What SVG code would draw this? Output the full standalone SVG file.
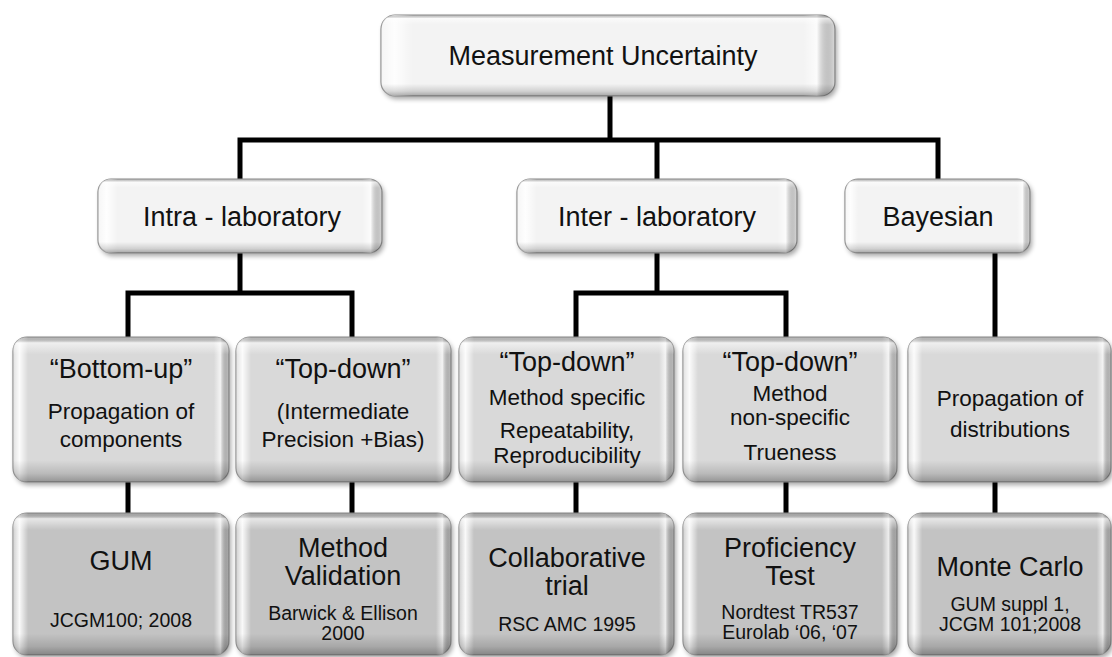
<svg xmlns="http://www.w3.org/2000/svg" width="1112" height="657" viewBox="0 0 1112 657">
<style>
text{font-family:"Liberation Sans",Arial,sans-serif;fill:#111;text-anchor:middle}
.h{font-size:27px}
.m{font-size:22.5px}
.s{font-size:19.5px}
.base{stroke:#8a8a8a;stroke-width:1.2}
.w{fill:#f3f3f3}
.g3{fill:#d9d9d9}
.g4{fill:#c3c3c3}
.hg{fill:url(#hGrad)}
.vg{fill:url(#vGrad)}
.sh{fill:#000;opacity:.35;filter:url(#blur)}
.conn{fill:none;stroke:#000;stroke-width:5;stroke-linejoin:miter}
</style>
<defs>
<filter id="blur" x="-10%" y="-10%" width="120%" height="130%"><feGaussianBlur stdDeviation="2.5"/></filter>
<linearGradient id="hGrad" x1="0" y1="0" x2="1" y2="0">
<stop offset="0" stop-color="#fff" stop-opacity=".2"/>
<stop offset=".03" stop-color="#fff" stop-opacity=".9"/>
<stop offset=".07" stop-color="#fff" stop-opacity="0"/>
<stop offset=".93" stop-color="#fff" stop-opacity="0"/>
<stop offset=".96" stop-color="#fff" stop-opacity=".7"/>
<stop offset="1" stop-color="#000" stop-opacity=".1"/>
</linearGradient>
<linearGradient id="vGrad" x1="0" y1="0" x2="0" y2="1">
<stop offset="0" stop-color="#000" stop-opacity=".1"/>
<stop offset=".04" stop-color="#fff" stop-opacity=".6"/>
<stop offset=".12" stop-color="#fff" stop-opacity="0"/>
<stop offset=".85" stop-color="#000" stop-opacity="0"/>
<stop offset=".94" stop-color="#000" stop-opacity=".14"/>
<stop offset="1" stop-color="#000" stop-opacity=".32"/>
</linearGradient>
</defs>
<rect width="1112" height="657" fill="#fff"/>

<g id="connectors">
<path class="conn" d="M610 96 V140 M240 179 V140 H938 V179 M657 140 V179"/>
<path class="conn" d="M240 253 V293 M128 337 V293 H352 V337"/>
<path class="conn" d="M657 253 V293 M576 337 V293 H786 V337"/>
<path class="conn" d="M995 253 V337"/>
<path class="conn" d="M128 482 V513 M352 482 V513 M576 482 V513 M786 482 V513 M995 482 V513"/>
</g>

<g id="n-mu">
<rect class="sh" x="383" y="18" width="454" height="81" rx="14"/>
<rect class="base w" x="381" y="15" width="454" height="81" rx="14"/>
<rect class="hg" x="381" y="15" width="454" height="81" rx="14"/>
<rect class="vg" x="381" y="15" width="454" height="81" rx="14"/>
<text class="h" x="603" y="65">Measurement Uncertainty</text>
</g>

<g id="n-intra">
<rect class="sh" x="100" y="182" width="284" height="74" rx="13"/>
<rect class="base w" x="98" y="179" width="284" height="74" rx="13"/>
<rect class="hg" x="98" y="179" width="284" height="74" rx="13"/>
<rect class="vg" x="98" y="179" width="284" height="74" rx="13"/>
<text class="h" x="242" y="226">Intra - laboratory</text>
</g>

<g id="n-inter">
<rect class="sh" x="519" y="182" width="280" height="74" rx="13"/>
<rect class="base w" x="517" y="179" width="280" height="74" rx="13"/>
<rect class="hg" x="517" y="179" width="280" height="74" rx="13"/>
<rect class="vg" x="517" y="179" width="280" height="74" rx="13"/>
<text class="h" x="657" y="226">Inter - laboratory</text>
</g>

<g id="n-bayes">
<rect class="sh" x="847" y="182" width="185" height="74" rx="13"/>
<rect class="base w" x="845" y="179" width="185" height="74" rx="13"/>
<rect class="hg" x="845" y="179" width="185" height="74" rx="13"/>
<rect class="vg" x="845" y="179" width="185" height="74" rx="13"/>
<text class="h" x="938" y="226">Bayesian</text>
</g>

<g id="n-bottomup">
<rect class="sh" x="15" y="340" width="216" height="145" rx="14"/>
<rect class="base g3" x="13" y="337" width="216" height="145" rx="14"/>
<rect class="hg" x="13" y="337" width="216" height="145" rx="14"/>
<rect class="vg" x="13" y="337" width="216" height="145" rx="14"/>
<text class="h" x="121" y="378">“Bottom-up”</text>
<text class="m" x="121" y="419">Propagation of</text>
<text class="m" x="121" y="447">components</text>
</g>

<g id="n-topdown-intra">
<rect class="sh" x="238" y="340" width="215" height="145" rx="14"/>
<rect class="base g3" x="236" y="337" width="215" height="145" rx="14"/>
<rect class="hg" x="236" y="337" width="215" height="145" rx="14"/>
<rect class="vg" x="236" y="337" width="215" height="145" rx="14"/>
<text class="h" x="343" y="378">“Top-down”</text>
<text class="m" x="343" y="419">(Intermediate</text>
<text class="m" x="343" y="447">Precision +Bias)</text>
</g>

<g id="n-topdown-specific">
<rect class="sh" x="461" y="340" width="215" height="145" rx="14"/>
<rect class="base g3" x="459" y="337" width="215" height="145" rx="14"/>
<rect class="hg" x="459" y="337" width="215" height="145" rx="14"/>
<rect class="vg" x="459" y="337" width="215" height="145" rx="14"/>
<text class="h" x="567" y="371">“Top-down”</text>
<text class="m" x="567" y="405">Method specific</text>
<text class="m" x="567" y="438">Repeatability,</text>
<text class="m" x="567" y="463">Reproducibility</text>
</g>

<g id="n-topdown-nonspecific">
<rect class="sh" x="685" y="340" width="214" height="145" rx="14"/>
<rect class="base g3" x="683" y="337" width="214" height="145" rx="14"/>
<rect class="hg" x="683" y="337" width="214" height="145" rx="14"/>
<rect class="vg" x="683" y="337" width="214" height="145" rx="14"/>
<text class="h" x="790" y="371">“Top-down”</text>
<text class="m" x="790" y="401">Method</text>
<text class="m" x="790" y="425">non-specific</text>
<text class="m" x="790" y="460">Trueness</text>
</g>

<g id="n-propagation">
<rect class="sh" x="910" y="340" width="203" height="145" rx="14"/>
<rect class="base g3" x="908" y="337" width="203" height="145" rx="14"/>
<rect class="hg" x="908" y="337" width="203" height="145" rx="14"/>
<rect class="vg" x="908" y="337" width="203" height="145" rx="14"/>
<text class="m" x="1010" y="406">Propagation of</text>
<text class="m" x="1010" y="437">distributions</text>
</g>

<g id="n-gum">
<rect class="sh" x="15" y="516" width="216" height="142" rx="14"/>
<rect class="base g4" x="13" y="513" width="216" height="142" rx="14"/>
<rect class="hg" x="13" y="513" width="216" height="142" rx="14"/>
<rect class="vg" x="13" y="513" width="216" height="142" rx="14"/>
<text class="h" x="121" y="570">GUM</text>
<text class="s" x="121" y="627">JCGM100; 2008</text>
</g>

<g id="n-validation">
<rect class="sh" x="238" y="516" width="215" height="142" rx="14"/>
<rect class="base g4" x="236" y="513" width="215" height="142" rx="14"/>
<rect class="hg" x="236" y="513" width="215" height="142" rx="14"/>
<rect class="vg" x="236" y="513" width="215" height="142" rx="14"/>
<text class="h" x="343" y="557">Method</text>
<text class="h" x="343" y="585">Validation</text>
<text class="s" x="343" y="620">Barwick &amp; Ellison</text>
<text class="s" x="343" y="640">2000</text>
</g>

<g id="n-collab">
<rect class="sh" x="461" y="516" width="215" height="142" rx="14"/>
<rect class="base g4" x="459" y="513" width="215" height="142" rx="14"/>
<rect class="hg" x="459" y="513" width="215" height="142" rx="14"/>
<rect class="vg" x="459" y="513" width="215" height="142" rx="14"/>
<text class="h" x="567" y="567">Collaborative</text>
<text class="h" x="567" y="595">trial</text>
<text class="s" x="567" y="631">RSC AMC 1995</text>
</g>

<g id="n-proficiency">
<rect class="sh" x="685" y="516" width="214" height="142" rx="14"/>
<rect class="base g4" x="683" y="513" width="214" height="142" rx="14"/>
<rect class="hg" x="683" y="513" width="214" height="142" rx="14"/>
<rect class="vg" x="683" y="513" width="214" height="142" rx="14"/>
<text class="h" x="790" y="557">Proficiency</text>
<text class="h" x="790" y="585">Test</text>
<text class="s" x="790" y="619">Nordtest TR537</text>
<text class="s" x="790" y="639">Eurolab ‘06, ‘07</text>
</g>

<g id="n-montecarlo">
<rect class="sh" x="910" y="516" width="203" height="142" rx="14"/>
<rect class="base g4" x="908" y="513" width="203" height="142" rx="14"/>
<rect class="hg" x="908" y="513" width="203" height="142" rx="14"/>
<rect class="vg" x="908" y="513" width="203" height="142" rx="14"/>
<text class="h" x="1010" y="576">Monte Carlo</text>
<text class="s" x="1010" y="611">GUM suppl 1,</text>
<text class="s" x="1010" y="631">JCGM 101;2008</text>
</g>
</svg>
